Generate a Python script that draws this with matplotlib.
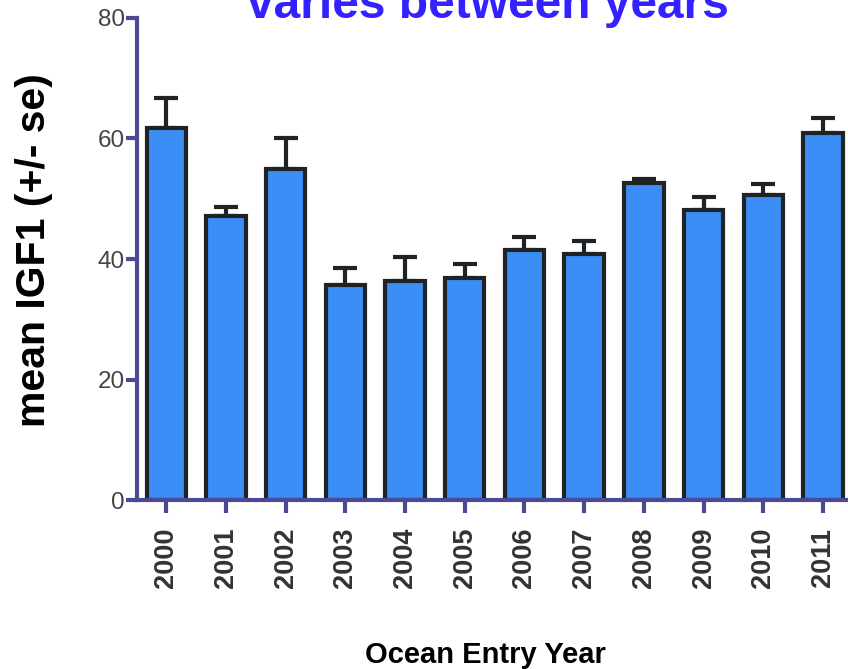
import matplotlib
matplotlib.use("Agg")
import matplotlib.pyplot as plt
import numpy as np

plt.rcParams['font.family'] = ['Liberation Sans', 'DejaVu Sans']

years = ['2000', '2001', '2002', '2003', '2004', '2005',
         '2006', '2007', '2008', '2009', '2010', '2011']
mean_igf1 = [61.8, 47.2, 55.0, 35.7, 36.3, 36.8, 41.5, 40.8, 52.6, 48.1, 50.6, 60.9]
se_igf1 = [5.0, 1.5, 5.1, 2.8, 4.0, 2.4, 2.2, 2.2, 0.7, 2.2, 1.8, 2.5]
y_ticks = [0, 20, 40, 60, 80]

axis_col = '#4a4a96'
bar_col = '#3a8ef6'
edge_col = '#202326'

fig = plt.figure(figsize=(8.48, 6.69), dpi=100)
ax = fig.add_axes([0.1616, 0.2526, 0.8384, 0.7205])

x = np.arange(len(years))
ax.errorbar(x, mean_igf1, yerr=[np.zeros(len(se_igf1)), se_igf1], fmt='none',
            ecolor=edge_col, elinewidth=3, capsize=8.5, capthick=3, zorder=2)
ax.bar(x, mean_igf1, width=0.66, color=bar_col, edgecolor=edge_col,
       linewidth=3, zorder=3)

ax.set_xlim(-0.49, 11.42)
ax.set_ylim(0, 80)
ax.set_yticks(y_ticks)
ax.set_xticks(x)
ax.set_xticklabels(years, rotation=90, fontweight='bold', fontsize=19.5, color='#333333')
ax.tick_params(axis='y', labelsize=17.5, labelcolor='#444444', color=axis_col,
               width=3, length=8, pad=1)
ax.tick_params(axis='x', color=axis_col, width=3, length=9, pad=11)

for s in ['top', 'right']:
    ax.spines[s].set_visible(False)
for s in ['left', 'bottom']:
    ax.spines[s].set_color(axis_col)
    ax.spines[s].set_linewidth(3)
    ax.spines[s].set_zorder(4)

fig.text(0.040, 0.626, 'mean IGF1 (+/- se)', fontsize=29.5, fontweight='bold',
         color='black', rotation=90, ha='center', va='center')
fig.text(0.572, 0.021, 'Ocean Entry Year', fontsize=21, fontweight='bold',
         ha='center', va='center', color='black')
fig.text(0.575, 0.973, 'varies between years', fontsize=34.5, fontweight='bold',
         ha='center', va='baseline', color='#3322ff')

fig.savefig('out.png', dpi=100)
